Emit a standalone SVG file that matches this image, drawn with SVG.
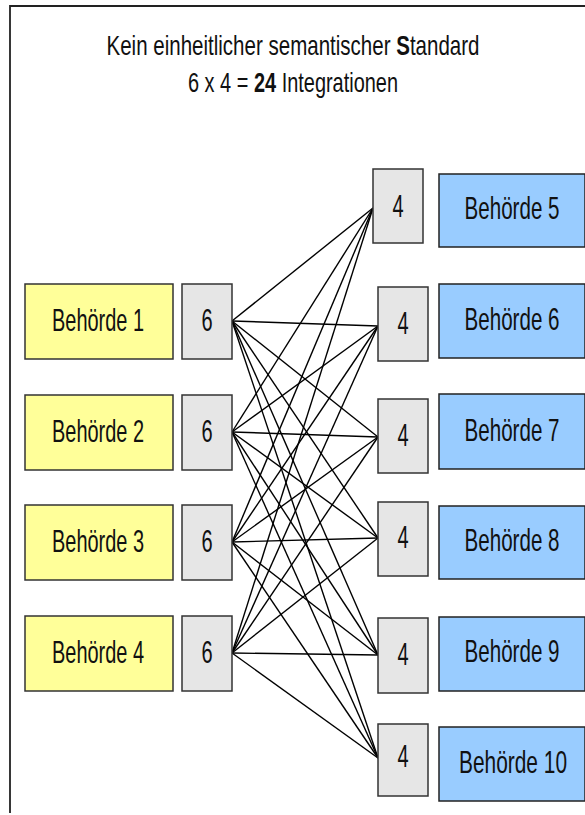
<svg xmlns="http://www.w3.org/2000/svg" width="585" height="815" viewBox="0 0 585 815">
<style>
.t{font-family:"Liberation Sans",Arial,sans-serif;fill:#111;font-size:20px;text-anchor:middle;}
.y{fill:#FFFF99;stroke:#333;stroke-width:1.5;}
.b{fill:#99CCFF;stroke:#222;stroke-width:1.5;}
.g{fill:#E6E6E6;stroke:#333;stroke-width:1.5;}
#connectors line{stroke:#000;stroke-width:1.4;}
</style>
<rect width="585" height="815" fill="#fff"/>
<path d="M10,813 V6 H585" fill="none" stroke="#222" stroke-width="1.8"/>
<g id="title">
<text class="t" transform="translate(293,55) scale(1,1.38)" font-size="20.5" textLength="373" lengthAdjust="spacingAndGlyphs">Kein einheitlicher semantischer <tspan font-weight="bold">S</tspan>tandard</text>
<text class="t" transform="translate(293,92) scale(1,1.38)" font-size="20.5" textLength="210" lengthAdjust="spacingAndGlyphs">6 x 4 = <tspan font-weight="bold">24</tspan> Integrationen</text>
</g>
<g id="connectors">
<line x1="232" y1="321" x2="373" y2="208"/><line x1="232" y1="321" x2="378" y2="326"/><line x1="232" y1="321" x2="378" y2="437"/><line x1="232" y1="321" x2="378" y2="538"/><line x1="232" y1="321" x2="378" y2="655"/><line x1="232" y1="321" x2="378" y2="758"/>
<line x1="232" y1="432" x2="373" y2="208"/><line x1="232" y1="432" x2="378" y2="326"/><line x1="232" y1="432" x2="378" y2="437"/><line x1="232" y1="432" x2="378" y2="538"/><line x1="232" y1="432" x2="378" y2="655"/><line x1="232" y1="432" x2="378" y2="758"/>
<line x1="232" y1="542" x2="373" y2="208"/><line x1="232" y1="542" x2="378" y2="326"/><line x1="232" y1="542" x2="378" y2="437"/><line x1="232" y1="542" x2="378" y2="538"/><line x1="232" y1="542" x2="378" y2="655"/><line x1="232" y1="542" x2="378" y2="758"/>
<line x1="232" y1="653" x2="373" y2="208"/><line x1="232" y1="653" x2="378" y2="326"/><line x1="232" y1="653" x2="378" y2="437"/><line x1="232" y1="653" x2="378" y2="538"/><line x1="232" y1="653" x2="378" y2="655"/><line x1="232" y1="653" x2="378" y2="758"/>
</g>
<g id="behoerde1"><rect class="y" x="25" y="284" width="148" height="75"/><text class="t" transform="translate(98,331) scale(1,1.55)" textLength="92" lengthAdjust="spacingAndGlyphs">Behörde 1</text></g>
<g id="behoerde2"><rect class="y" x="25" y="395" width="148" height="75"/><text class="t" transform="translate(98,442) scale(1,1.55)" textLength="92" lengthAdjust="spacingAndGlyphs">Behörde 2</text></g>
<g id="behoerde3"><rect class="y" x="25" y="505" width="148" height="75"/><text class="t" transform="translate(98,552) scale(1,1.55)" textLength="92" lengthAdjust="spacingAndGlyphs">Behörde 3</text></g>
<g id="behoerde4"><rect class="y" x="25" y="616" width="148" height="75"/><text class="t" transform="translate(98,663) scale(1,1.55)" textLength="92" lengthAdjust="spacingAndGlyphs">Behörde 4</text></g>
<g id="a1"><rect class="g" x="182" y="284" width="50" height="75"/><text class="t" transform="translate(207,331) scale(1,1.6)">6</text></g>
<g id="a2"><rect class="g" x="182" y="395" width="50" height="75"/><text class="t" transform="translate(207,442) scale(1,1.6)">6</text></g>
<g id="a3"><rect class="g" x="182" y="505" width="50" height="75"/><text class="t" transform="translate(207,552) scale(1,1.6)">6</text></g>
<g id="a4"><rect class="g" x="182" y="616" width="50" height="75"/><text class="t" transform="translate(207,663) scale(1,1.6)">6</text></g>
<g id="b5"><rect class="g" x="373" y="169" width="50" height="74"/><text class="t" transform="translate(398,217) scale(1,1.6)">4</text></g>
<g id="b6"><rect class="g" x="378" y="287" width="50" height="74"/><text class="t" transform="translate(403,334) scale(1,1.6)">4</text></g>
<g id="b7"><rect class="g" x="378" y="399" width="50" height="74"/><text class="t" transform="translate(403,446) scale(1,1.6)">4</text></g>
<g id="b8"><rect class="g" x="378" y="502" width="50" height="74"/><text class="t" transform="translate(403,548) scale(1,1.6)">4</text></g>
<g id="b9"><rect class="g" x="378" y="618" width="50" height="75"/><text class="t" transform="translate(403,665) scale(1,1.6)">4</text></g>
<g id="b10"><rect class="g" x="378" y="724" width="50" height="72"/><text class="t" transform="translate(403,767) scale(1,1.6)">4</text></g>
<g id="behoerde5"><rect class="b" x="439" y="174" width="146" height="73"/><text class="t" transform="translate(512,219) scale(1,1.55)" textLength="95" lengthAdjust="spacingAndGlyphs">Behörde 5</text></g>
<g id="behoerde6"><rect class="b" x="439" y="284" width="146" height="74"/><text class="t" transform="translate(512,330) scale(1,1.55)" textLength="95" lengthAdjust="spacingAndGlyphs">Behörde 6</text></g>
<g id="behoerde7"><rect class="b" x="439" y="394" width="146" height="75"/><text class="t" transform="translate(512,441) scale(1,1.55)" textLength="95" lengthAdjust="spacingAndGlyphs">Behörde 7</text></g>
<g id="behoerde8"><rect class="b" x="439" y="506" width="146" height="73"/><text class="t" transform="translate(512,551) scale(1,1.55)" textLength="95" lengthAdjust="spacingAndGlyphs">Behörde 8</text></g>
<g id="behoerde9"><rect class="b" x="439" y="617" width="146" height="74"/><text class="t" transform="translate(512,662) scale(1,1.55)" textLength="95" lengthAdjust="spacingAndGlyphs">Behörde 9</text></g>
<g id="behoerde10"><rect class="b" x="439" y="727" width="146" height="74"/><text class="t" transform="translate(513,773) scale(1,1.55)" textLength="108" lengthAdjust="spacingAndGlyphs">Behörde 10</text></g>
</svg>
